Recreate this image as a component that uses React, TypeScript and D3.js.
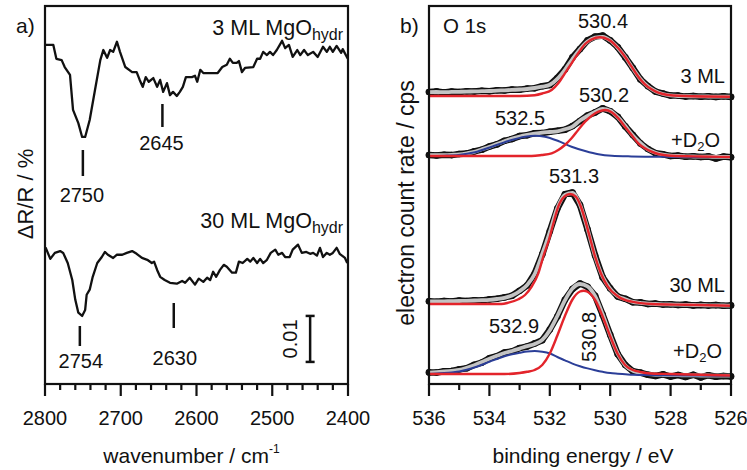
import React from 'react';
import * as d3 from 'd3';

const FONT = '"Liberation Sans", Arial, Helvetica, sans-serif';

// ---------------- Panel a: IR spectra (wavenumber / cm-1, ΔR/R in 1e-3 %) ----------------
const IR_3ML: [number, number][] = [
  [2800, 0], [2789, 0], [2785, -3.0], [2778, -3.3], [2774, -4.8], [2767, -6.5], [2763, -14.1], [2756, -17.0],
  [2751, -20.0], [2747, -20.0], [2741, -16.3], [2734, -9.8], [2727, -3.3], [2723, -1.1], [2718, -2.8], [2714, -1.1],
  [2710, -1.5], [2705, 0.7], [2701, -1.5], [2694, -4.8], [2685, -5.9], [2679, -5.9], [2675, -7.6], [2671, -9.1],
  [2667, -7.0], [2663, -8.0], [2657, -7.2], [2652, -9.1], [2648, -7.6], [2644, -10.2], [2639, -8.3], [2635, -10.9],
  [2631, -10.2], [2626, -11.1], [2622, -10.2], [2618, -9.1], [2614, -7.0], [2606, -7.0], [2602, -6.7], [2599, -8.0],
  [2595, -5.4], [2591, -6.1], [2585, -6.1], [2572, -6.1], [2566, -4.8], [2560, -4.3], [2556, -3.0], [2552, -3.9],
  [2547, -3.9], [2544, -3.5], [2540, -5.9], [2536, -5.0], [2525, -4.8], [2520, -3.0], [2516, -3.0], [2512, -1.5],
  [2507, -2.2], [2503, -1.5], [2499, -2.2], [2494, -1.1], [2487, 0.9], [2483, -0.7], [2478, 0], [2473, -2.6],
  [2467, -1.1], [2463, -2.2], [2458, -1.1], [2453, -2.2], [2446, -1.5], [2440, -2.6], [2433, -0.4], [2428, -1.5],
  [2424, -0.4], [2420, -1.5], [2415, -0.2], [2409, -1.7], [2407, -0.9], [2401, -2.8], [2400, -3.0],
];
const IR_30ML: [number, number][] = [
  [2800, 0], [2799, 0], [2793, -2.4], [2787, -1.1], [2780, -0.7], [2776, -1.1], [2770, -3.3], [2764, -7.0],
  [2760, -11.3], [2756, -14.1], [2751, -14.8], [2747, -13.5], [2745, -10.2], [2741, -9.1], [2737, -6.3], [2731, -3.3],
  [2725, -2.0], [2721, -0.9], [2717, -1.5], [2710, -2.2], [2705, -1.5], [2698, -1.5], [2692, -1.1], [2685, -0.7],
  [2679, -1.3], [2672, -2.2], [2665, -2.6], [2659, -3.3], [2656, -3.0], [2652, -4.8], [2648, -6.3], [2642, -7.0],
  [2635, -7.6], [2626, -7.8], [2619, -7.2], [2615, -7.6], [2609, -6.5], [2602, -8.0], [2597, -6.7], [2591, -7.4],
  [2586, -6.5], [2582, -7.0], [2578, -5.2], [2574, -6.3], [2569, -4.8], [2564, -3.7], [2560, -4.1], [2553, -5.4],
  [2548, -5.4], [2544, -3.0], [2539, -3.3], [2533, -2.4], [2529, -3.0], [2525, -2.2], [2520, -3.3], [2516, -2.4],
  [2512, -3.3], [2507, -2.6], [2502, -1.1], [2496, -0.4], [2492, -1.5], [2487, -1.1], [2483, -2.0], [2477, -2.0],
  [2473, -0.4], [2466, 0.7], [2461, -1.1], [2455, -0.9], [2450, -1.3], [2446, -1.1], [2441, -1.7], [2437, 0],
  [2433, -2.0], [2428, -1.1], [2424, -1.5], [2420, -1.1], [2415, 0], [2411, -1.3], [2404, -2.2], [2401, -3.3],
];
const IR_OFFSET_3ML = 73.7;
const IR_OFFSET_30ML = 29.6;
const IR_TICKS = [2800, 2700, 2600, 2500, 2400];
const IR_PEAKS_3ML = [2750, 2645];
const IR_PEAKS_30ML = [2754, 2630];
const IR_SCALEBAR = { wn: 2450, from: 4.8, size: 10, label: '0.01' };

// ---------------- Panel b: XPS O 1s (binding energy / eV, counts in cps) ----------------
const XPS_E = [536, 535.75, 535.5, 535.25, 535, 534.75, 534.5, 534.25, 534, 533.75, 533.5, 533.25, 533, 532.75,
  532.5, 532.25, 532, 531.75, 531.5, 531.25, 531, 530.75, 530.5, 530.25, 530, 529.75, 529.5, 529.25, 529, 528.75,
  528.5, 528.25, 528, 527.75, 527.5, 527.25, 527, 526.75, 526.5, 526.25, 526];

const XPS_3ML_DATA = [40, 46, 36, 44, 40, 48, 44, 52, 48, 57, 55, 64, 63, 74, 78, 98, 110, 180, 266, 386, 470, 556, 594, 604, 556, 488, 386, 280, 166, 98, 44, 24, 4, 4, -6, 0, -8, -2, -9, -3, -9];
const XPS_3ML_ENV = [38, 40, 38, 41, 42, 44, 46, 48, 50, 54, 57, 61, 65, 70, 80, 93, 112, 172, 262, 370, 468, 545, 583, 590, 555, 483, 390, 275, 170, 95, 48, 20, 6, 0, -2, -3, -4, -5, -6, -6, -7];
const XPS_3ML_RED: [number, number][] = [[536, 0], [533, 0], [532.5, 8], [532.25, 25], [531.94, 60], [531.72, 127], [531.5, 227], [531.28, 327], [531.06, 427], [530.83, 520], [530.61, 567], [530.34, 587], [530.07, 567], [529.95, 543], [529.73, 477], [529.51, 393], [529.29, 293], [529.07, 193], [528.85, 117], [528.63, 67], [528.41, 33], [528.08, 10], [527.3, -3], [526, -7]];

const XPS_D2O_A_DATA = [10, 5, 12, 9, 20, 24, 46, 63, 95, 116, 152, 170, 199, 208, 228, 229, 243, 252, 263, 299, 350, 405, 436, 476, 448, 392, 296, 210, 126, 70, 28, 17, 0, 4, -7, -2, -10, -4, -25, -6, -13];
const XPS_D2O_A_ENV = [8, 8, 9, 12, 16, 27, 42, 67, 91, 120, 147, 174, 195, 211, 223, 233, 240, 247, 267, 294, 355, 400, 440, 470, 452, 388, 300, 205, 130, 66, 32, 13, 4, 0, -3, -5, -6, -7, -8, -9, -10];
const XPS_D2O_A_RED: [number, number][] = [[536, 0], [532.6, 0], [532.27, 10], [531.94, 27], [531.72, 60], [531.5, 110], [531.28, 177], [531.06, 260], [530.83, 343], [530.61, 403], [530.39, 443], [530.17, 460], [529.95, 437], [529.73, 377], [529.51, 293], [529.29, 210], [529.07, 127], [528.85, 77], [528.63, 43], [528.41, 20], [527.96, 3], [527, -5], [526, -10]];
const XPS_D2O_A_BLUE: [number, number][] = [[536, 0], [535.5, 3], [535.03, 10], [534.48, 37], [533.92, 93], [533.37, 150], [532.82, 193], [532.49, 203], [532.16, 193], [531.72, 150], [531.28, 93], [530.83, 50], [530.39, 17], [529.95, 2], [529.3, -4], [528, -8], [526, -10]];

const XPS_30ML_DATA = [28, 22, 30, 25, 34, 30, 38, 36, 46, 52, 66, 82, 132, 186, 305, 496, 728, 955, 1098, 1115, 990, 745, 485, 266, 156, 74, 52, 18, 16, 0, 4, -6, -2, -10, -6, -14, -9, -16, -11, -18, -14];
const XPS_30ML_ENV = [25, 26, 27, 28, 30, 32, 35, 38, 42, 50, 62, 85, 128, 190, 300, 500, 720, 960, 1090, 1110, 993, 750, 478, 272, 150, 78, 48, 21, 12, 3, 0, -3, -5, -7, -9, -10, -12, -13, -14, -15, -16];
const XPS_30ML_RED: [number, number][] = [[536, 0], [533.6, 0], [533.37, 13], [533.04, 47], [532.82, 90], [532.6, 173], [532.38, 307], [532.2, 490], [532.03, 640], [531.88, 807], [531.72, 973], [531.52, 1073], [531.33, 1100], [531.14, 1073], [530.97, 973], [530.8, 807], [530.65, 640], [530.5, 473], [530.31, 307], [530.08, 173], [529.73, 73], [529.29, 23], [528.63, 0], [527.5, -8], [526, -17]];

const XPS_D2O_B_DATA = [16, 14, 28, 30, 46, 58, 92, 114, 158, 178, 215, 226, 259, 275, 306, 338, 444, 575, 742, 850, 905, 872, 782, 592, 392, 198, 90, 28, 14, -8, -20, -4, -26, -10, -30, -8, -34, -12, -28, -20, -24];
const XPS_D2O_B_ENV = [13, 19, 25, 32, 41, 62, 88, 119, 153, 182, 210, 230, 254, 279, 301, 342, 438, 580, 737, 855, 900, 877, 778, 597, 387, 203, 86, 33, 11, -2, -8, -10, -11, -12, -13, -14, -15, -15, -16, -16, -17];
const XPS_D2O_B_RED: [number, number][] = [[536, 0], [533.5, 0], [533, 10], [532.75, 22], [532.5, 40], [532.25, 90], [532, 205], [531.75, 385], [531.5, 580], [531.25, 745], [531, 825], [530.88, 833], [530.75, 822], [530.5, 740], [530.25, 575], [530, 378], [529.75, 200], [529.5, 88], [529.25, 40], [529, 20], [528.75, 8], [528.5, 3], [528, 0], [527, -8], [526, -15]];
const XPS_D2O_B_BLUE: [number, number][] = [[536, 0], [535.75, 5], [535.5, 10], [535.25, 16], [535, 24], [534.75, 42], [534.5, 65], [534.25, 92], [534, 123], [533.75, 150], [533.5, 177], [533.25, 197], [533, 212], [532.75, 225], [532.5, 230], [532.25, 222], [532, 205], [531.75, 170], [531.5, 137], [531.25, 104], [531, 78], [530.75, 56], [530.5, 38], [530.25, 22], [530, 9], [529.75, 3], [529.5, -2], [529.25, -7], [528.5, -12], [527, -16], [526, -17]];

const XPS_OFFSETS = { ml3: 2880, d2oA: 2280, ml30: 800, d2oB: 100 };
const XPS_TICKS = [536, 534, 532, 530, 528, 526];
const XPS_MINOR = [535, 533, 531, 529, 527];

// ---------------- Layout ----------------
const A = { l: 45, r: 348, t: 6, b: 384 };
const B = { l: 429, r: 731, t: 6, b: 384 };
const xA = d3.scaleLinear().domain([2800, 2400]).range([A.l, A.r]);
const yA = d3.scaleLinear().domain([0, 82.17]).range([A.b, A.t]);
const xB = d3.scaleLinear().domain([536, 526]).range([B.l, B.r]);
const yB = d3.scaleLinear().domain([0, 3780]).range([B.b, B.t]);

const RED = '#e3242b';
const BLUE = '#2b3e98';
const GRAY = '#c3c3c3';
const INK = '#111';

function Txt(props: { x: number; y: number; anchor?: string; size?: number; rotate?: number; children: React.ReactNode }) {
  const { x, y, anchor = 'middle', size = 20, rotate = 0, children } = props;
  return (
    <text transform={`translate(${x},${y}) rotate(${rotate})`} textAnchor={anchor as any} fontSize={size} fontFamily={FONT} fill={INK}>
      {children}
    </text>
  );
}

function Frame({ box }: { box: { l: number; r: number; t: number; b: number } }) {
  return <rect x={box.l} y={box.t} width={box.r - box.l} height={box.b - box.t} fill="none" stroke={INK} strokeWidth={2.2} />;
}

function XpsSpectrum({ data, env, red, blue, off }: { data: number[]; env: number[]; red: [number, number][]; blue?: [number, number][]; off: number }) {
  const pts: [number, number][] = XPS_E.map((e, i) => [e, data[i]]);
  const envPts: [number, number][] = XPS_E.map((e, i) => [e, env[i]]);
  const lin = d3.line<[number, number]>().x((d) => xB(d[0])).y((d) => yB(d[1] + off));
  const smooth = d3.line<[number, number]>().x((d) => xB(d[0])).y((d) => yB(d[1] + off)).curve(d3.curveMonotoneX);
  return (
    <g>
      <path d={lin(pts) || ''} fill="none" stroke={INK} strokeWidth={6.5} strokeLinejoin="round" strokeLinecap="round" />
      {pts.map((p, i) => (
        <circle key={i} cx={xB(p[0])} cy={yB(p[1] + off)} r={3.3} fill={INK} />
      ))}
      <path d={smooth(envPts) || ''} fill="none" stroke={GRAY} strokeWidth={3.8} strokeLinejoin="round" />
      {blue && <path d={smooth(blue) || ''} fill="none" stroke={BLUE} strokeWidth={2} />}
      <path d={smooth(red) || ''} fill="none" stroke={RED} strokeWidth={2.4} />
    </g>
  );
}

export default function App() {
  const irLine = (off: number) => d3.line<[number, number]>().x((d) => xA(d[0])).y((d) => yA(d[1] + off));
  const irMinor = d3.range(2400, 2801, 20).filter((v) => v % 100 !== 0);

  // annotation layout (pixel rows)
  const irAnn3 = [
    { tick: [150, 176], ty: 202 },
    { tick: [104, 127], ty: 150 },
  ];
  const irAnn30 = [
    { tick: [326, 346], ty: 368 },
    { tick: [303, 328], ty: 365 },
  ];
  const sb = IR_SCALEBAR;

  return (
    <svg width={747} height={470} style={{ position: 'absolute', left: 0, top: 0, background: '#fff' }}>
      <rect x={0} y={0} width={747} height={470} fill="#fff" />

      {/* ---------- Panel a ---------- */}
      <g>
        <path d={irLine(IR_OFFSET_3ML)(IR_3ML) || ''} fill="none" stroke={INK} strokeWidth={2.3} strokeLinejoin="round" />
        <path d={irLine(IR_OFFSET_30ML)(IR_30ML) || ''} fill="none" stroke={INK} strokeWidth={2.3} strokeLinejoin="round" />
        {IR_PEAKS_3ML.map((wn, i) => (
          <g key={wn}>
            <line x1={xA(wn)} x2={xA(wn)} y1={irAnn3[i].tick[0]} y2={irAnn3[i].tick[1]} stroke={INK} strokeWidth={2.5} />
            <Txt x={xA(wn) - 1} y={irAnn3[i].ty}>{String(wn)}</Txt>
          </g>
        ))}
        {IR_PEAKS_30ML.map((wn, i) => (
          <g key={wn}>
            <line x1={xA(wn)} x2={xA(wn)} y1={irAnn30[i].tick[0]} y2={irAnn30[i].tick[1]} stroke={INK} strokeWidth={2.5} />
            <Txt x={xA(wn) + 1} y={irAnn30[i].ty}>{String(wn)}</Txt>
          </g>
        ))}
        {/* scale bar */}
        <line x1={xA(sb.wn)} x2={xA(sb.wn)} y1={yA(sb.from)} y2={yA(sb.from + sb.size)} stroke={INK} strokeWidth={2.5} />
        <line x1={xA(sb.wn) - 4.5} x2={xA(sb.wn) + 4.5} y1={yA(sb.from)} y2={yA(sb.from)} stroke={INK} strokeWidth={2.5} />
        <line x1={xA(sb.wn) - 4.5} x2={xA(sb.wn) + 4.5} y1={yA(sb.from + sb.size)} y2={yA(sb.from + sb.size)} stroke={INK} strokeWidth={2.5} />
        <Txt x={xA(sb.wn) - 13} y={yA(sb.from + sb.size / 2)} rotate={-90}>{sb.label}</Txt>

        <Txt x={343} y={35} anchor="end" size={21.5}>
          <tspan>3 ML MgO</tspan>
          <tspan fontSize={16} dy={5}>hydr</tspan>
        </Txt>
        <Txt x={343} y={228} anchor="end" size={21.5}>
          <tspan>30 ML MgO</tspan>
          <tspan fontSize={16} dy={5}>hydr</tspan>
        </Txt>
        <Txt x={16} y={33} anchor="start" size={21}>a)</Txt>

        <Frame box={A} />
        {IR_TICKS.map((t) => (
          <g key={t}>
            <line x1={xA(t)} x2={xA(t)} y1={A.b} y2={A.b + 12} stroke={INK} strokeWidth={2.2} />
            <Txt x={xA(t)} y={425}>{String(t)}</Txt>
          </g>
        ))}
        {irMinor.map((t) => (
          <line key={t} x1={xA(t)} x2={xA(t)} y1={A.b} y2={A.b + 6} stroke={INK} strokeWidth={2.2} />
        ))}
        <Txt x={(A.l + A.r) / 2 - 5} y={463} size={21}>
          <tspan>wavenumber / cm</tspan>
          <tspan fontSize={12} dy={-10}>-1</tspan>
        </Txt>
        <Txt x={33} y={194} rotate={-90} size={22}>ΔR/R / %</Txt>
      </g>

      {/* ---------- Panel b ---------- */}
      <g>
        <XpsSpectrum data={XPS_3ML_DATA} env={XPS_3ML_ENV} red={XPS_3ML_RED} off={XPS_OFFSETS.ml3} />
        <XpsSpectrum data={XPS_D2O_A_DATA} env={XPS_D2O_A_ENV} red={XPS_D2O_A_RED} blue={XPS_D2O_A_BLUE} off={XPS_OFFSETS.d2oA} />
        <XpsSpectrum data={XPS_30ML_DATA} env={XPS_30ML_ENV} red={XPS_30ML_RED} off={XPS_OFFSETS.ml30} />
        <XpsSpectrum data={XPS_D2O_B_DATA} env={XPS_D2O_B_ENV} red={XPS_D2O_B_RED} blue={XPS_D2O_B_BLUE} off={XPS_OFFSETS.d2oB} />

        <Txt x={400} y={33} anchor="start" size={21}>b)</Txt>
        <Txt x={443} y={33} anchor="start" size={20.5}>O 1s</Txt>
        <Txt x={603} y={28}>530.4</Txt>
        <Txt x={725} y={83} anchor="end">3 ML</Txt>
        <Txt x={604} y={102}>530.2</Txt>
        <Txt x={520} y={125}>532.5</Txt>
        <Txt x={720} y={147} anchor="end">
          <tspan>+D</tspan>
          <tspan fontSize={13} dy={4}>2</tspan>
          <tspan dy={-4}>O</tspan>
        </Txt>
        <Txt x={574} y={183}>531.3</Txt>
        <Txt x={725} y={292} anchor="end">30 ML</Txt>
        <Txt x={514} y={333}>532.9</Txt>
        <Txt x={596} y={337} rotate={-90}>530.8</Txt>
        <Txt x={722} y={358} anchor="end">
          <tspan>+D</tspan>
          <tspan fontSize={13} dy={4}>2</tspan>
          <tspan dy={-4}>O</tspan>
        </Txt>

        <Frame box={B} />
        {XPS_TICKS.map((t) => (
          <g key={t}>
            <line x1={xB(t)} x2={xB(t)} y1={B.b} y2={B.b + 12} stroke={INK} strokeWidth={2.2} />
            <Txt x={xB(t)} y={425}>{String(t)}</Txt>
          </g>
        ))}
        {XPS_MINOR.map((t) => (
          <line key={t} x1={xB(t)} x2={xB(t)} y1={B.b} y2={B.b + 6} stroke={INK} strokeWidth={2.2} />
        ))}
        <Txt x={(B.l + B.r) / 2 + 3} y={463} size={21}>binding energy / eV</Txt>
        <Txt x={414} y={203} rotate={-90} size={23}>electron count rate / cps</Txt>
      </g>
    </svg>
  );
}
